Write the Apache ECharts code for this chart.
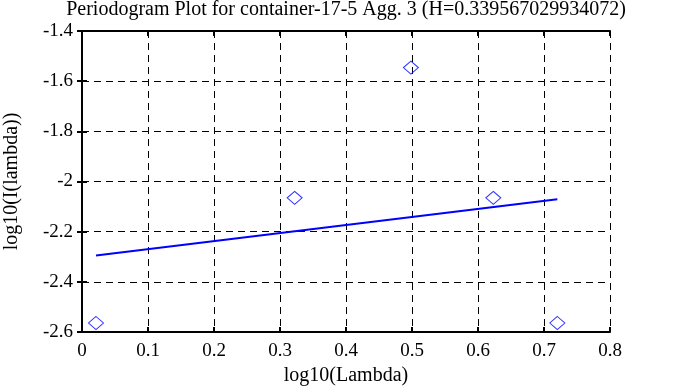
<!DOCTYPE html>
<html><head><meta charset="utf-8">
<script src="https://cdn.jsdelivr.net/npm/echarts@6/dist/echarts.min.js"></script>
<style>html,body{margin:0;padding:0;background:#fff}#c{width:673px;height:387px}</style>
</head><body><div id="c"></div>
<script>
const titleText = 'Periodogram Plot for container-17-5 Agg. 3 (H=0.339567029934072)';
const xName = 'log10(Lambda)';
const yName = 'log10(I(lambda))';
const pointX = [0.0212, 0.3222, 0.4983, 0.6232, 0.7202];
const pointY = [-2.564, -2.065, -1.546, -2.065, -2.564];
const fitX = [0.0212, 0.7202];
const fitY = [-2.2952, -2.0709];

const font = 'Liberation Serif';
const chart = echarts.init(document.getElementById('c'));
const axisBase = {
  axisLine: {show: true, lineStyle: {color: '#000', width: 2}},
  axisTick: {show: true, inside: true, length: 5, lineStyle: {color: '#000', width: 2}},
  splitLine: {show: false}
};
const dash = {show: true, lineStyle: {color: '#000', type: [7, 5], width: 1}};
chart.setOption({
  animation: false,
  backgroundColor: '#fff',
  title: {text: titleText, left: 346, top: 0, padding: 0, textAlign: 'center',
    textStyle: {fontFamily: font, fontSize: 20, fontWeight: 'normal', color: '#000'}},
  grid: {left: 82, right: 63, top: 31, bottom: 55, containLabel: false, outerBoundsMode: 'none'},
  xAxis: [
    Object.assign({}, axisBase, {type: 'value', min: 0, max: 0.8, interval: 0.1, position: 'bottom',
      name: xName, nameLocation: 'middle', nameGap: 33,
      nameTextStyle: {fontFamily: font, fontSize: 20, color: '#000'},
      axisLabel: {fontFamily: font, fontSize: 19, color: '#000', margin: 10},
      splitLine: dash}),
    Object.assign({}, axisBase, {type: 'value', min: 0, max: 0.8, interval: 0.1, position: 'top',
      axisLabel: {show: false}})
  ],
  yAxis: [
    Object.assign({}, axisBase, {type: 'value', min: -2.6, max: -1.4, interval: 0.2, position: 'left',
      name: yName, nameLocation: 'middle', nameGap: 60,
      nameTextStyle: {fontFamily: font, fontSize: 20, color: '#000'},
      axisLabel: {fontFamily: font, fontSize: 19, color: '#000', margin: 9,
        formatter: v => (Math.round(v * 10) / 10).toString()},
      splitLine: dash}),
    Object.assign({}, axisBase, {type: 'value', min: -2.6, max: -1.4, interval: 0.2, position: 'right',
      axisLabel: {show: false}})
  ],
  series: [
    {type: 'scatter', symbol: 'diamond', symbolSize: [15, 13],
      itemStyle: {color: 'transparent', borderColor: '#0000ff', borderWidth: 1},
      data: pointX.map((x, i) => [x, pointY[i]])},
    {type: 'line', symbol: 'none', lineStyle: {color: '#0000ff', width: 2},
      data: fitX.map((x, i) => [x, fitY[i]])}
  ]
});
</script></body></html>
